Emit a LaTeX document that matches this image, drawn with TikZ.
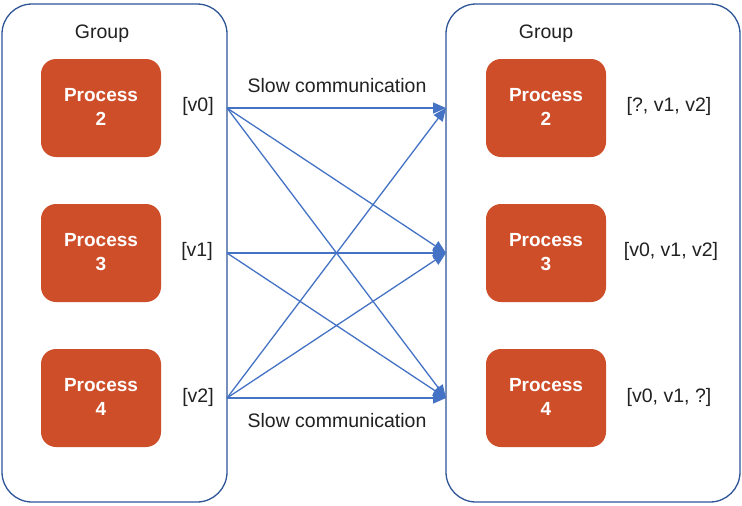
\documentclass[tikz,border=0pt]{standalone}
\usepackage{fontspec}
\setmainfont{Liberation Sans}
\usetikzlibrary{arrows.meta}
\definecolor{grpblue}{RGB}{47,85,151}
\definecolor{lineblue}{RGB}{68,114,196}
\definecolor{procfill}{RGB}{207,78,42}
\definecolor{txt}{RGB}{33,33,33}
\tikzset{
  groupbox/.style={draw=grpblue, line width=1.3pt, rounded corners=30pt, fill=white},
  procbox/.style={fill=procfill, rounded corners=15pt, minimum width=120pt, minimum height=98pt, inner sep=0pt},
  ptext/.style={text=white, font=\fontsize{19}{24}\selectfont\bfseries, align=center, inner sep=0pt, yshift=1pt},
  lbl/.style={text=txt, font=\fontsize{19.5}{23}\selectfont, inner sep=0pt},
  msg/.style={draw=lineblue, line width=1.3pt, -{Triangle[length=13pt,width=11pt]}},
}
\begin{document}
\begin{tikzpicture}[x=1pt,y=-1pt]
\useasboundingbox (0,0) rectangle (742,506);
\fill[white] (0,0) rectangle (742,506);
% groups
\draw[groupbox] (2,4) rectangle (227,502);
\draw[groupbox] (446,4) rectangle (740,502);
\node[lbl] (gl) at (102,34) {Group};
\node[lbl] (gr) at (546,34) {Group};
% processes left
\node[procbox] (l2) at (101,108) {};
\node[procbox] (l3) at (101,253) {};
\node[procbox] (l4) at (101,398) {};
\node[ptext] (l2t) at (l2.center) {Process\\2};
\node[ptext] (l3t) at (l3.center) {Process\\3};
\node[ptext] (l4t) at (l4.center) {Process\\4};
% processes right
\node[procbox] (r2) at (546,108) {};
\node[procbox] (r3) at (546,253) {};
\node[procbox] (r4) at (546,398) {};
\node[ptext] (r2t) at (r2.center) {Process\\2};
\node[ptext] (r3t) at (r3.center) {Process\\3};
\node[ptext] (r4t) at (r4.center) {Process\\4};
% value labels
\node[lbl] (v0) at (198,106) {[v0]};
\node[lbl] (v1) at (197,251) {[v1]};
\node[lbl] (v2) at (198,397) {[v2]};
\node[lbl] (w0) at (669,106) {[?, v1, v2]};
\node[lbl] (w1) at (671,251) {[v0, v1, v2]};
\node[lbl] (w2) at (669,397) {[v0, v1, ?]};
\node[lbl] (top) at (337,86) {Slow communication};
\node[lbl] (bot) at (337,421) {Slow communication};
% connector endpoints
\coordinate (s0) at (227,108);
\coordinate (s1) at (227,253);
\coordinate (s2) at (227,398);
\coordinate (t0) at (446,108);
\coordinate (t1) at (446,253);
\coordinate (t2) at (446,398);
% connectors
\draw[msg] (s0) -- (t0);
\draw[msg] (s0) -- (t1);
\draw[msg] (s0) -- (t2);
\draw[msg] (s1) -- (t1);
\draw[msg] (s1) -- (t2);
\draw[msg] (s2) -- (t0);
\draw[msg] (s2) -- (t1);
\draw[msg] (s2) -- (t2);
\end{tikzpicture}
\end{document}
